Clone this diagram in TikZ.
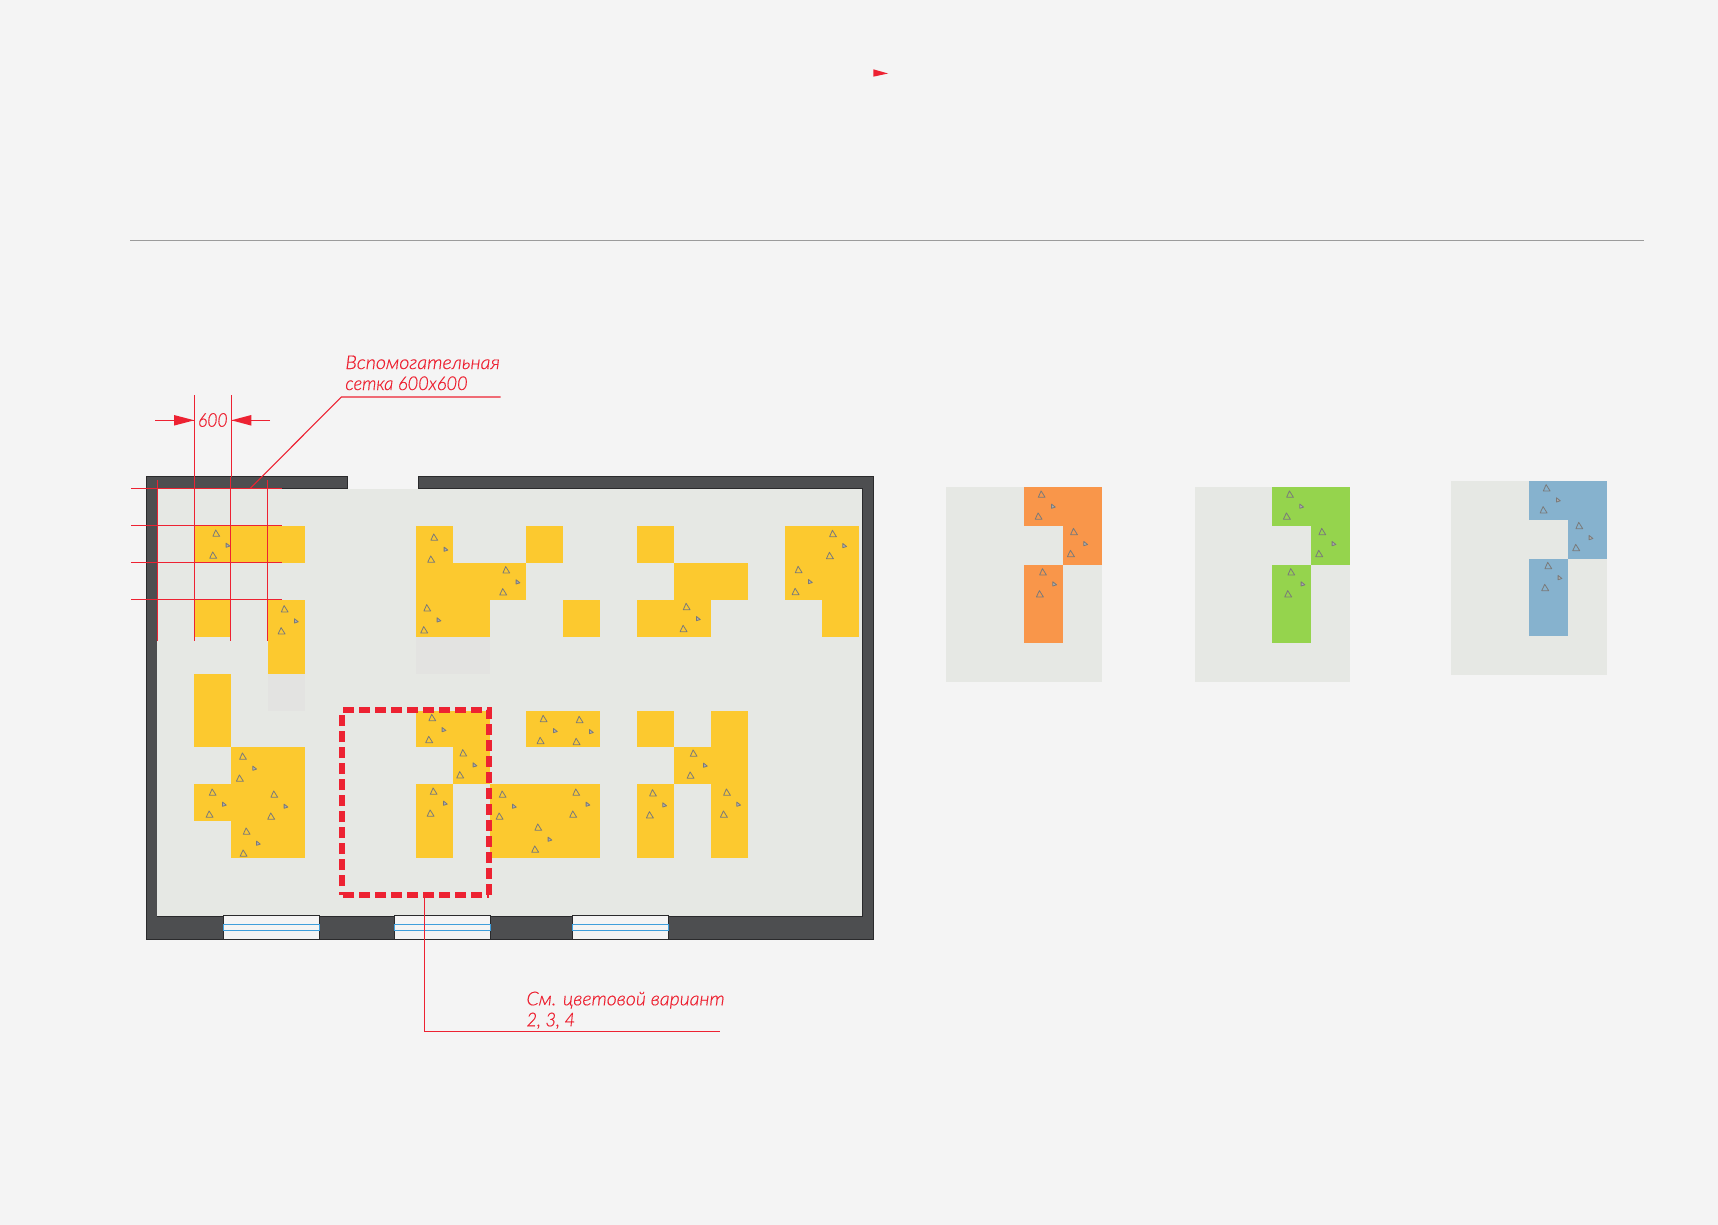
\documentclass[tikz,border=0pt]{standalone}
\usepackage{fontspec}
\newfontfamily\labfont[FakeBold=0.5]{Lato Light Italic}
\definecolor{pagebg}{HTML}{F4F4F4}
\definecolor{floorc}{HTML}{E6E8E4}
\definecolor{wallc}{HTML}{4D4E50}
\definecolor{wallline}{HTML}{2A2A2C}
\definecolor{yel}{HTML}{FCC92F}
\definecolor{org}{HTML}{F9964A}
\definecolor{grn}{HTML}{95D44D}
\definecolor{blu}{HTML}{86B2CE}
\definecolor{redc}{HTML}{ED2232}
\definecolor{cellgray}{HTML}{E3E3E1}
\definecolor{trig}{HTML}{7A7A7A}
\definecolor{glass}{HTML}{3F9FDC}
\definecolor{rulec}{HTML}{9B9B9B}
\tikzset{
  redline/.style={draw=redc,line width=1.1pt},
  dashline/.style={draw=redc,line width=6pt,dash pattern=on 11pt off 5pt},
  tri/.style={draw=trig,line width=0.8pt,line join=round},
  lab/.style={text=redc,font=\labfont\fontsize{19}{20}\selectfont,anchor=base west,inner sep=0pt},
  winbox/.style={draw=wallline,fill=pagebg,line width=1pt},
  glassbox/.style={draw=glass,line width=1pt},
}
\newcommand{\strch}[1]{\addfontfeature{FakeStretch=#1}}
\newcommand{\trip}[2]{%
  \draw[tri] (#1-0.6,#2-3.4) -- (#1+3.4,#2+3) -- (#1-3.4,#2+3) -- cycle;
  \draw[tri] (#1-3.6,#2+18.6) -- (#1+0.4,#2+25) -- (#1-6.6,#2+25) -- cycle;
  \filldraw[tri,fill=trig!60!white] (#1+9.8,#2+9.8) -- (#1+13.6,#2+12.8) -- (#1+9.8,#2+14) -- cycle;
}
\begin{document}
\begin{tikzpicture}[x=1pt,y=-1pt]
\useasboundingbox (0,0) rectangle (1718,1225);
\fill[pagebg] (0,0) rectangle (1718,1225);
% top marks
\fill[redc] (873.3,69.3) -- (888,73.5) -- (873.3,76.7) -- cycle;
\draw[rulec,line width=0.8pt] (130,240) -- (1643.5,240);
% walls
\filldraw[fill=wallc,draw=wallline,line width=1pt]
  (347.7,488.7) -- (347.7,476) -- (146,476) -- (146,939.3) -- (873.5,939.3) -- (873.5,476)
  -- (418.3,476) -- (418.3,488.7) -- (862.3,488.7) -- (862.3,916) -- (157,916) -- (157,488.7) -- cycle;
\fill[floorc] (157,488.7) rectangle (862.3,916);
% windows
\foreach \wx in {223.4,394.4,572.5}{
  \draw[winbox] (\wx,915.3) rectangle (\wx+96.2,939.3);
  \draw[glassbox] (\wx,924.3) rectangle (\wx+96.2,930.5);
}
% pale cells
\fill[cellgray] (268,674) rectangle (305,711);
\fill[cellgray] (416,637) rectangle (490,674);
% yellow cells
\fill[yel] (194.3,526) rectangle (305,563);
\fill[yel] (194.3,600) rectangle (231,637);
\fill[yel] (268,600) rectangle (305,674);
\fill[yel] (194.3,674) rectangle (231,747);
\fill[yel] (231,747) rectangle (305,858);
\fill[yel] (194.3,784) rectangle (231,821);
\fill[yel] (416,526) rectangle (453,563);
\fill[yel] (416,563) rectangle (526,600);
\fill[yel] (416,600) rectangle (490,637);
\fill[yel] (526,526) rectangle (563,563);
\fill[yel] (563,600) rectangle (600,637);
\fill[yel] (637,526) rectangle (674,563);
\fill[yel] (674,563) rectangle (748,600);
\fill[yel] (637,600) rectangle (711,637);
\fill[yel] (785,526) rectangle (859,600);
\fill[yel] (822,600) rectangle (859,637);
\fill[yel] (416,711) rectangle (490,747);
\fill[yel] (453,747) rectangle (490,784);
\fill[yel] (416,784) rectangle (453,858);
\fill[yel] (490,784) rectangle (600,858);
\fill[yel] (526,711) rectangle (600,747);
\fill[yel] (637,711) rectangle (674,747);
\fill[yel] (711,711) rectangle (748,784);
\fill[yel] (674,747) rectangle (711,784);
\fill[yel] (637,784) rectangle (674,858);
\fill[yel] (711,784) rectangle (748,858);
% triangles in plan
\trip{216.3}{533.3}\trip{434.3}{537.3}\trip{506.3}{570}\trip{284.7}{609}\trip{427.3}{608}
\trip{833}{533.7}\trip{798.7}{569.7}\trip{686.7}{606.7}\trip{432.3}{717.7}\trip{543.7}{718.7}
\trip{579.7}{719.7}\trip{463.3}{753}\trip{693.7}{753.3}\trip{433.7}{791.3}\trip{502.7}{794.3}
\trip{576.3}{792.3}\trip{653}{793}\trip{727}{792.3}\trip{538.3}{827.3}
\trip{243}{756.3}\trip{212.7}{792.3}\trip{274.3}{794.3}\trip{246.7}{831.3}
% auxiliary grid
\foreach \gy in {488.3,525.3,562.3,599.3}{\draw[redline] (131,\gy) -- (282,\gy);}
\draw[redline] (157.3,480) -- (157.3,640.7);
\draw[redline] (194.3,395) -- (194.3,640.7);
\draw[redline] (231.3,395) -- (231.3,477);
\draw[redline] (230.4,477) -- (230.4,640.7);
\draw[redline] (267.3,480) -- (267.3,640.7);
% dimension
\coordinate (dl) at (155,420.3);
\coordinate (dla) at (194.3,420.3);
\coordinate (dr) at (270,420.3);
\coordinate (dra) at (231.3,420.3);
\draw[redline] (dl) -- (dla);
\draw[redline] (dr) -- (dra);
\fill[redc] (174,415) -- (194.3,420.3) -- (174,425.6) -- cycle;
\fill[redc] (251.3,415) -- (231.3,420.3) -- (251.3,425.6) -- cycle;
\node[lab,anchor=center] (dim) at (212.8,420) {\strch{0.92}600};
% leader 1
\coordinate (l1a) at (250,488.7);
\coordinate (l1b) at (341.3,397);
\coordinate (l1c) at (500.7,397);
\draw[redline] (l1a) -- (l1b) -- (l1c);
\node[lab] (t1) at (345.2,369) {\strch{1.035}Вспомогательная};
\node[lab] (t2) at (345.2,390) {\strch{0.96}сетка 600х600};
% dashed frame
\draw[dashline] (343,710.3) -- (489.3,710.3) -- (489.3,895);
\draw[dashline,dash phase=8.7pt] (489.3,895) -- (343,895);
\draw[dashline] (342,886) -- (342,714);
\fill[redc] (339,892.3) rectangle (343,895);
% leader 2
\coordinate (l2a) at (424.3,898);
\coordinate (l2b) at (424.3,1031.3);
\coordinate (l2c) at (720,1031.3);
\draw[redline] (l2a) -- (l2b) -- (l2c);
\node[lab] (t3) at (526.3,1005.3) {\strch{1.025}См. цветовой вариант};
\node[lab] (t4) at (526.3,1026.3) {\strch{0.96}2, 3, 4};
% colour variant panels
\fill[floorc] (946,487) rectangle (1102,682);
\fill[org] (1024,487) rectangle (1102,525.7);
\fill[org] (1063,525.7) rectangle (1102,565);
\fill[org] (1024,565) rectangle (1063,643);
\trip{1041.7}{494.3}\trip{1074}{531.7}\trip{1043}{572}
\fill[floorc] (1195,487) rectangle (1350,682);
\fill[grn] (1272,487) rectangle (1350,525.7);
\fill[grn] (1311,525.7) rectangle (1350,565);
\fill[grn] (1272,565) rectangle (1311,643);
\trip{1290}{494.3}\trip{1322.3}{531.7}\trip{1291.3}{572}
\fill[floorc] (1451,481) rectangle (1607,675);
\fill[blu] (1529,481) rectangle (1607,520);
\fill[blu] (1568,520) rectangle (1607,559);
\fill[blu] (1529,559) rectangle (1568,636);
\trip{1546.7}{488}\trip{1579.3}{525.7}\trip{1548.3}{565.7}
\end{tikzpicture}
\end{document}
